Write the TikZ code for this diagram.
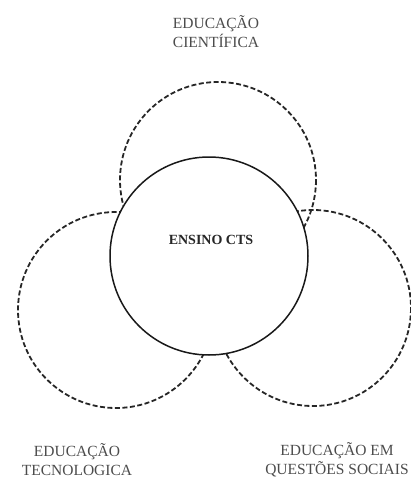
\documentclass[tikz,border=0pt]{standalone}
\usepackage{fontspec}
\setmainfont{Liberation Serif}
\begin{document}
\begin{tikzpicture}[x=1pt,y=-1pt,
  dcirc/.style={draw=black!85,line width=1.8pt,dash pattern=on 5pt off 2.5pt},
  ccirc/.style={draw=black!90,line width=1.5pt,fill=white},
  lbl/.style={text=black!70,font=\fontsize{15.5}{19}\selectfont,align=center,inner sep=0pt},
  clbl/.style={text=black!85,font=\fontsize{14}{16}\selectfont\bfseries,inner sep=0pt}]
\useasboundingbox (0,0) rectangle (411,480);
\coordinate (ct) at (218,180);
\coordinate (cl) at (116,310);
\coordinate (cr) at (313,308);
\coordinate (cc) at (209,256);
\draw[dcirc] (ct) circle (98);
\draw[dcirc] (cl) circle (98);
\draw[dcirc] (cr) circle (98);
\path[ccirc] (cc) circle (99);
\node[clbl] (center) at (211,240) {ENSINO CTS};
\node[lbl] (top) at (216,32) {EDUCAÇÃO\\CIENTÍFICA};
\node[lbl] (left) at (77,460) {EDUCAÇÃO\\TECNOLOGICA};
\node[lbl] (right) at (337,460) {EDUCAÇÃO EM\\QUESTÕES SOCIAIS};
\end{tikzpicture}
\end{document}
